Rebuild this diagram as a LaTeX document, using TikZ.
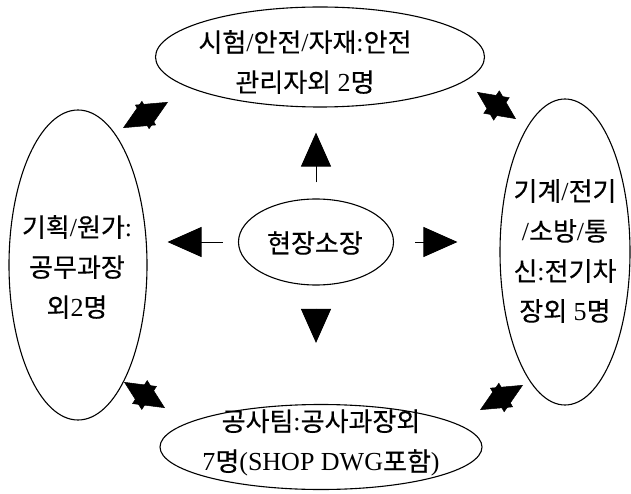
\documentclass[tikz,border=0pt]{standalone}
\usepackage{fontspec}
\setmainfont{Liberation Serif}
\newfontfamily\K[FakeBold=0.4]{Noto Sans CJK KR}
\usetikzlibrary{arrows.meta,shapes.geometric}
\begin{document}
\begin{tikzpicture}[x=1pt,y=-1pt,
  oval/.style={draw, ellipse, line width=1.1pt, inner sep=0pt},
  lbl/.style={font=\fontsize{26}{40}\selectfont, align=center, inner sep=0pt},
  bigarrow/.style={line width=1pt, -{Triangle[length=34pt,width=30pt]}},
  dbl/.style={line width=0.5pt, {Triangle[length=30pt,width=28pt]}-{Triangle[length=30pt,width=28pt]}}
]
\useasboundingbox (0,0) rectangle (631,494);
% ellipses
\node[oval, minimum width=329pt, minimum height=100pt] (T) at (320,57) {};
\node[oval, minimum width=155pt, minimum height=86pt] (C) at (316,242) {};
\node[oval, minimum width=138pt, minimum height=310pt] (L) at (78,265) {};
\node[oval, minimum width=130pt, minimum height=306pt] (R) at (565,252) {};
\node[oval, minimum width=322pt, minimum height=85pt] (B) at (321,447) {};
% texts
\node[lbl] (Tt) at (305,62) {{\K 시험}/{\K 안전}/{\K 자재}:{\K 안전}\\{\K 관리자외} 2{\K 명}};
\node[lbl] (Ct) at (315,243) {{\K 현장소장}};
\node[lbl] (Lt) at (77,267) {{\K 기획}/{\K 원가}:\\{\K 공무과장}\\{\K 외}2{\K 명}};
\node[lbl] (Rt) at (565,251) {{\K 기계}/{\K 전기}\\/{\K 소방}/{\K 통}\\{\K 신}:{\K 전기차}\\{\K 장외} 5{\K 명}};
\node[lbl] (Bt) at (321,443) {{\K 공사팀}:{\K 공사과장외}\\7{\K 명}(SHOP DWG{\K 포함})};
% arrows from centre
\draw[bigarrow, shorten <=16pt, shorten >=25pt] (C.north) -- (C.north |- T.south);
\draw[bigarrow, shorten <=15pt, shorten >=20pt] (C.west) -- (C.west -| L.east);
\draw[bigarrow, shorten <=21pt, shorten >=42pt] (C.east) -- (C.east -| R.west);
\draw[bigarrow, shorten <=23pt, shorten >=61pt] (C.south) -- (C.south |- B.north);
% corner double arrows
\coordinate (ulA) at (123,128); \coordinate (ulB) at (168,102);
\coordinate (urA) at (477,92);  \coordinate (urB) at (516,119);
\coordinate (llA) at (124,382); \coordinate (llB) at (165,408);
\coordinate (lrA) at (480,410); \coordinate (lrB) at (523,385);
\draw[dbl] (ulA) -- (ulB);
\draw[dbl] (urA) -- (urB);
\draw[dbl] (llA) -- (llB);
\draw[dbl] (lrA) -- (lrB);
\end{tikzpicture}
\end{document}
